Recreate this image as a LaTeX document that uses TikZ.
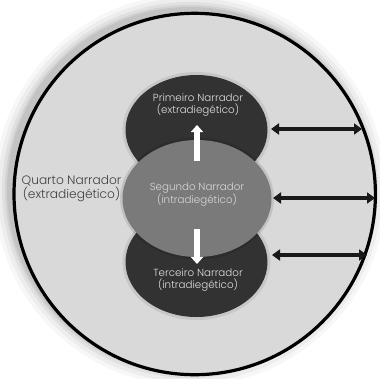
\documentclass[tikz,border=0pt]{standalone}
\usepackage{fontspec}
\setmainfont{Poppins}[UprightFont={* Light}]
\usetikzlibrary{arrows.meta,shapes.geometric}
\definecolor{bgin}{HTML}{D9D9D9}
\definecolor{darkel}{HTML}{323232}
\definecolor{midel}{HTML}{7A7A7A}
\definecolor{txtlight}{HTML}{E0E0E0}
\definecolor{txtmid}{HTML}{D8D8D8}
\definecolor{txtout}{HTML}{404040}
\tikzset{
  lbl/.style={align=center, font=\fontsize{10.3}{12}\selectfont, inner sep=0pt},
  whitearrow/.style={-{Triangle[length=7pt,width=12pt]}, line width=6.5pt, draw=white},
  blackarrow/.style={{Triangle[length=8pt,width=11pt]}-{Triangle[length=8pt,width=11pt]}, line width=4.5pt, draw=black!90},
}
\begin{document}
\begin{tikzpicture}[x=1pt,y=-1pt]
\useasboundingbox (0,0) rectangle (380,378);
\fill[white] (0,0) rectangle (380,378);
% soft shadow toward upper left
\foreach \r/\o in {196/0.03,192/0.04,188/0.05,185/0.06,183/0.07}{
  \fill[black,opacity=\o] (190,190) circle (\r);
}
\node[circle, draw=black, line width=3.2pt, fill=bgin, minimum size=361.4pt, inner sep=0pt, outer sep=0pt] (outer) at (194.7,194) {};
% ellipses
\fill[black,opacity=0.08] (196.5,130) ellipse (74 and 58);
\fill[black,opacity=0.08] (196.5,262) ellipse (74 and 58);
\node[ellipse, fill=darkel, minimum width=142pt, minimum height=110pt, inner sep=0pt] (top) at (196.5,130) {};
\node[ellipse, fill=darkel, minimum width=142pt, minimum height=110pt, inner sep=0pt] (bot) at (196.5,262) {};
\fill[black,opacity=0.10] (197,198.5) ellipse (77 and 61);
\node[ellipse, fill=midel, minimum width=149pt, minimum height=117pt, inner sep=0pt] (mid) at (197,198.5) {};
% texts
\node[lbl, text=txtlight] (t1) at (198,105) {Primeiro Narrador\\(extradiegético)};
\node[lbl, text=txtmid] (t2) at (197,194.5) {Segundo Narrador\\(intradiegético)};
\node[lbl, text=txtlight] (t3) at (198,280) {Terceiro Narrador\\(intradiegético)};
\node[lbl, text=txtout, font=\fontsize{12.2}{13}\selectfont] (t4) at (71.5,188.5) {Quarto Narrador\\(extradiegético)};
% white arrows
\coordinate (u1) at (197,161);
\coordinate (u2) at (197,125);
\coordinate (d1) at (197,229);
\coordinate (d2) at (197,264);
\draw[whitearrow] (u1) -- (u2);
\draw[whitearrow] (d1) -- (d2);
% black double arrows
\coordinate (a1) at (271,129);
\coordinate (b1) at (362,129);
\coordinate (a2) at (273,198);
\coordinate (b2) at (375,198);
\coordinate (a3) at (272,255);
\coordinate (b3) at (367,255);
\draw[blackarrow] (a1) -- (b1);
\draw[blackarrow] (a2) -- (b2);
\draw[blackarrow] (a3) -- (b3);
\end{tikzpicture}
\end{document}
